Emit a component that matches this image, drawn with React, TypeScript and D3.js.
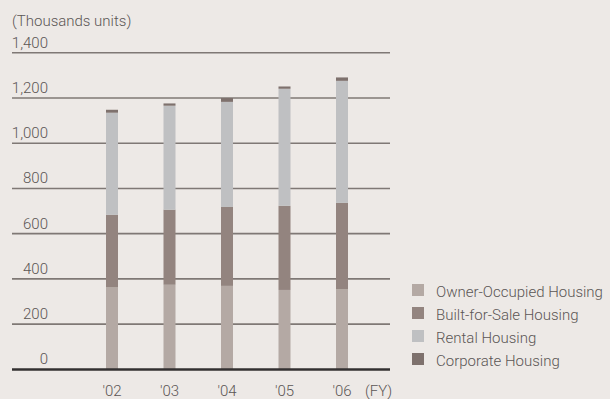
import React from "react";
import * as d3 from "d3";

const years = ["'02", "'03", "'04", "'05", "'06"];
const ownerOccupied = [364, 374, 369, 351, 355];
const builtForSale = [319, 332, 349, 372, 381];
const rental = [452, 460, 465, 518, 540];
const corporate = [13, 10, 17, 10, 15];
const yTicks = [0, 200, 400, 600, 800, 1000, 1200, 1400];
const seriesNames = ["Owner-Occupied Housing", "Built-for-Sale Housing", "Rental Housing", "Corporate Housing"];
const seriesColors = ["#b4a9a4", "#93847f", "#bfc0c2", "#7e716d"];

const W = 610, H = 399;
const FONT = "Roboto, 'DejaVu Sans Condensed', sans-serif";

export default function App() {
  const x = d3.scalePoint<string>().domain(years).range([112, 342]);
  const y = d3.scaleLinear().domain([0, 1400]).range([369.3, 52.8]);
  const data = years.map((yr, i) => ({
    year: yr,
    owner: ownerOccupied[i],
    built: builtForSale[i],
    rental: rental[i],
    corporate: corporate[i],
  }));
  const keys = ["owner", "built", "rental", "corporate"];
  const stacked = d3.stack<any>().keys(keys)(data);
  const barW = 12;
  const textColor = "#5b5655";

  return (
    <svg width={W} height={H} style={{ position: "absolute", left: 0, top: 0, background: "#ede9e6" }}>
      <rect x={0} y={0} width={W} height={H} fill="#ede9e6" />
      <text x={12} y={26} fontFamily={FONT} fontSize={15} fontWeight={300} fill={textColor}>(Thousands units)</text>
      {yTicks.map((t) => (
        <g key={t}>
          {t !== 0 && <line x1={12} x2={390} y1={y(t)} y2={y(t)} stroke="#7f7875" strokeWidth={1.6} />}
          <text x={48} y={y(t) - 5} textAnchor="end" fontFamily={FONT} fontSize={15} fontWeight={300} fill={textColor}>
            {d3.format(",")(t)}
          </text>
        </g>
      ))}
      {stacked.map((s, si) => (
        <g key={s.key} fill={seriesColors[si]}>
          {s.map((d: any, i: number) => (
            <rect key={i} x={(x(years[i]) as number) - barW / 2} y={y(d[1])} width={barW} height={y(d[0]) - y(d[1])} />
          ))}
        </g>
      ))}
      <line x1={12} x2={390} y1={369.5} y2={369.5} stroke="#333031" strokeWidth={2.5} />
      {years.map((yr) => (
        <text key={yr} x={x(yr)} y={396} textAnchor="middle" fontFamily={FONT} fontSize={15} fontWeight={300} fill={textColor}>{yr}</text>
      ))}
      <text x={365} y={396} fontFamily={FONT} fontSize={15} fontWeight={300} fill={textColor}>(FY)</text>
      {seriesNames.map((n, i) => (
        <g key={n}>
          <rect x={412} y={284 + i * 23} width={12} height={12} fill={seriesColors[i]} />
          <text x={436} y={297 + i * 23} fontFamily={FONT} fontSize={15} fontWeight={300} fill={textColor}>{n}</text>
        </g>
      ))}
    </svg>
  );
}
